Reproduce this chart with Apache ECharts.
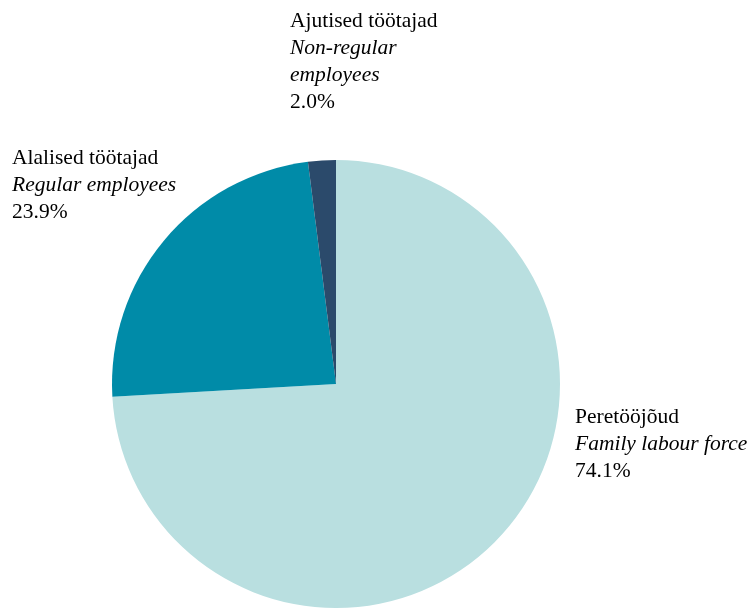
<!DOCTYPE html>
<html><head><meta charset="utf-8">
<script src="https://cdn.jsdelivr.net/npm/echarts@6/dist/echarts.min.js"></script>
<style>html,body{margin:0;padding:0;background:#fff}#c{width:752px;height:608px}</style>
</head><body><div id="c"></div>
<script>
const namesEt = ['Peretööjõud', 'Alalised töötajad', 'Ajutised töötajad'];
const namesEn = [['Family labour force'], ['Regular employees'], ['Non-regular', 'employees']];
const values = [74.1, 23.9, 2.0];
const colors = ['#b9dfe0', '#008ba8', '#2b4a6b'];
const labelPos = [[575, 404], [12, 145], [290, 8]];

const chart = echarts.init(document.getElementById('c'), null, {renderer: 'canvas'});
const data = values.map((v, i) => ({
  value: v,
  name: namesEt[i],
  itemStyle: {color: colors[i]}
}));
chart.setOption({
  animation: false,
  series: [{
    type: 'pie',
    center: [336, 384],
    radius: 224,
    startAngle: 90,
    clockwise: true,
    data: data,
    label: {
      show: true,
      overflow: 'none',
      width: 300,
      formatter: p => {
        const i = p.dataIndex;
        return ['{a|' + namesEt[i] + '}']
          .concat(namesEn[i].map(s => '{b|' + s + '}'))
          .concat(['{a|' + values[i].toFixed(1) + '%}']).join('\n');
      },
      rich: {
        a: {fontFamily: 'Liberation Serif', fontSize: 21.5, lineHeight: 27, color: '#000'},
        b: {fontFamily: 'Liberation Serif', fontSize: 21.5, lineHeight: 27, fontStyle: 'italic', color: '#000'}
      }
    },
    labelLine: {show: false},
    labelLayout: p => ({x: labelPos[p.dataIndex][0], y: labelPos[p.dataIndex][1], align: 'left', verticalAlign: 'top'}),
    emphasis: {disabled: true}
  }]
});
</script></body></html>
